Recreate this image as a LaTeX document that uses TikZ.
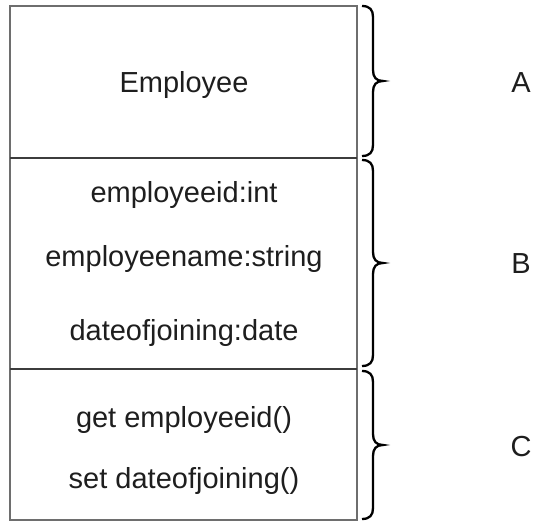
\documentclass[tikz,border=0pt]{standalone}
\usepackage{fontspec}
\setmainfont{Liberation Sans}
\begin{document}
\begin{tikzpicture}[x=1pt,y=-1pt,
  boxline/.style={draw={rgb,255:red,110;green,110;blue,110},line width=1.4pt},
  divline/.style={draw={rgb,255:red,60;green,60;blue,60},line width=1.4pt},
  bracestyle/.style={draw=black,line width=2.3pt,line cap=butt},
  txt/.style={inner sep=0pt,anchor=base,font=\fontsize{29}{34}\selectfont,text={rgb,255:red,30;green,30;blue,30}}]
\useasboundingbox (0,0) rectangle (533,521);
% box
\coordinate (tl) at (10,6);
\coordinate (br) at (357,520);
\coordinate (d1l) at (10,158);
\coordinate (d1r) at (357,158);
\coordinate (d2l) at (10,369);
\coordinate (d2r) at (357,369);
\draw[boxline] (tl) rectangle (br);
\draw[divline] (d1l) -- (d1r);
\draw[divline] (d2l) -- (d2r);
% braces
\newcommand{\umlbrace}[2]{%
  \pgfmathsetmacro{\ym}{(#1+#2)/2}%
  \draw[bracestyle] (362,#1) .. controls (370,#1) and (373,#1+4) .. (373,#1+11)
    -- (373,\ym-11) .. controls (373,\ym-4) and (376,\ym) .. (383,\ym)
    .. controls (376,\ym) and (373,\ym+4) .. (373,\ym+11)
    -- (373,#2-11) .. controls (373,#2-4) and (370,#2) .. (362,#2);}
\umlbrace{6}{156}
\umlbrace{160}{366}
\umlbrace{371}{519}
% texts
\node[txt] (cls) at (184,93) {Employee};
\node[txt] (a1) at (184,203) {employeeid:int};
\node[txt] (a2) at (184,267) {employeename:string};
\node[txt] (a3) at (184,341) {dateofjoining:date};
\node[txt] (m1) at (184,427) {get employeeid()};
\node[txt] (m2) at (184,488) {set dateofjoining()};
\node[txt] (la) at (521,93) {A};
\node[txt] (lb) at (521,274) {B};
\node[txt] (lc) at (521,456) {C};
\end{tikzpicture}
\end{document}
